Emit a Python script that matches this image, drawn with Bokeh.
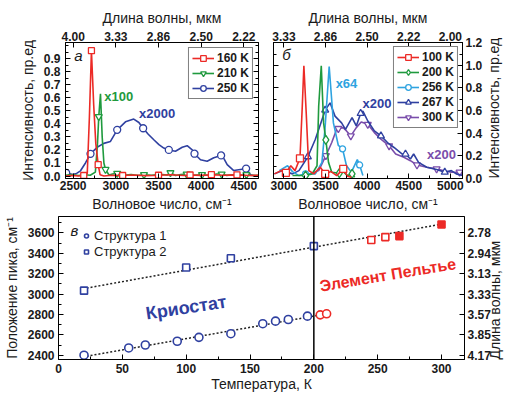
import math
from bokeh.plotting import figure
from bokeh.models import (Range1d, LinearAxis, FixedTicker, SingleIntervalTicker,
                          Legend, LegendItem, PrintfTickFormatter, Span, Label)
from bokeh.layouts import column, row
from bokeh.embed import file_html
from bokeh.resources import INLINE

FONT = "Liberation Sans"
TXT = "#1a1a1a"

# ---------------- panel a data ----------------
a_wn_ticks = [2500, 3000, 3500, 4000, 4500]
a_wl_labels = ["4.00", "3.33", "2.86", "2.50", "2.22"]
a_int_ticks = [0.0, 0.1, 0.2, 0.3, 0.4, 0.5, 0.6, 0.7, 0.8, 0.9]

a160_x = [2410, 2500, 2560, 2624, 2665, 2690, 2714, 2740, 2765, 2793, 2815, 2860, 2950,
          3080, 3200, 3350, 3500, 3650, 3800, 3870, 4000, 4120, 4250, 4420, 4550, 4672]
a160_y = [0.0, 0.005, 0.0, 0.004, 0.02, 0.45, 0.96, 0.55, 0.25, 0.087, 0.01, 0.0, 0.006,
          0.004, 0.008, 0.003, 0.006, 0.01, 0.004, 0.008, 0.005, 0.01, 0.006, 0.009, 0.004, 0.005]
a160_mx = [2624, 2714, 2793, 3080, 3500, 3870, 4120, 4420]
a160_my = [0.004, 0.96, 0.087, 0.004, 0.006, 0.008, 0.01, 0.009]

a210_x = [2410, 2480, 2560, 2640, 2700, 2760, 2785, 2800, 2820, 2840, 2860, 2879, 2920,
          2960, 3016, 3080, 3180, 3260, 3330, 3420, 3520, 3600, 3640, 3700, 3760, 3830,
          3900, 4010, 4100, 4180, 4240, 4300, 4400, 4460, 4530, 4600, 4672]
a210_y = [0.005, 0.012, 0.004, 0.01, 0.006, 0.03, 0.25, 0.455, 0.63, 0.3, 0.1, 0.05, 0.008,
          0.015, 0.02, 0.006, 0.012, 0.004, 0.01, 0.006, 0.014, 0.008, 0.025, 0.004, 0.012,
          0.015, 0.006, 0.01, 0.004, 0.016, 0.015, 0.005, 0.012, 0.006, 0.01, 0.004, 0.006]
a210_mx = [2800, 2879, 3016, 3330, 3640, 3830, 4010, 4240, 4530]
a210_my = [0.455, 0.05, 0.02, 0.01, 0.025, 0.015, 0.01, 0.015, 0.01]

a250_x = [2418, 2450, 2488, 2540, 2586, 2644, 2703, 2781, 2859, 2937, 3016, 3113, 3210,
          3270, 3320, 3380, 3445, 3505, 3562, 3621, 3699, 3778, 3836, 3895, 3922, 3992,
          4070, 4148, 4234, 4270, 4305, 4382, 4460, 4527, 4578, 4637, 4672]
a250_y = [0.024, 0.02, 0.012, 0.02, 0.04, 0.10, 0.17, 0.22, 0.25, 0.265, 0.354, 0.415, 0.436,
          0.41, 0.366, 0.32, 0.278, 0.24, 0.214, 0.20, 0.19, 0.22, 0.232, 0.20, 0.171, 0.125,
          0.113, 0.14, 0.158, 0.13, 0.088, 0.042, 0.05, 0.057, 0.01, 0.0, 0.0]
a250_mx = [2418, 2703, 3016, 3320, 3621, 3922, 4234, 4527]
a250_my = [0.024, 0.17, 0.354, 0.366, 0.20, 0.171, 0.158, 0.057]

# ---------------- panel b data ----------------
b_wn_ticks = [3000, 3500, 4000, 4500, 5000]
b_wl_labels = ["3.33", "2.86", "2.50", "2.22", "2.00"]
b_int_ticks = [0.0, 0.2, 0.4, 0.6, 0.8, 1.0, 1.2]

b100_x = [2886, 2965, 3024, 3083, 3134, 3193, 3221, 3240, 3268, 3300, 3359, 3437, 3496,
          3567, 3634, 3713, 3764, 3811]
b100_y = [0.038, 0.067, 0.047, 0.11, 0.067, 0.176, 0.64, 0.996, 0.58, 0.067, 0.038, 0.097,
          0.038, 0.058, 0.023, 0.082, 0.017, 0.009]
b100_mx = [3024, 3193, 3496, 3713]
b100_my = [0.047, 0.176, 0.038, 0.082]

b200_x = [3103, 3260, 3339, 3398, 3418, 3449, 3477, 3504, 3536, 3575, 3666, 3713, 3764, 3819, 3851]
b200_y = [0.023, 0.023, 0.038, 0.11, 0.64, 0.996, 0.49, 0.34, 0.14, 0.053, 0.044, 0.058,
          0.023, 0.038, 0.009]
b200_mx = [3260, 3504, 3666, 3819]
b200_my = [0.023, 0.34, 0.044, 0.038]

b256_x = [2945, 3044, 3103, 3181, 3260, 3378, 3457, 3496, 3544, 3595, 3654, 3705, 3752,
          3811, 3882, 3910, 3949]
b256_y = [0.067, 0.11, 0.058, 0.023, 0.038, 0.038, 0.14, 0.46, 0.99, 0.49, 0.29, 0.26,
          0.11, 0.053, 0.164, 0.117, 0.023]
b256_mx = [3260, 3705, 3910]
b256_my = [0.038, 0.26, 0.117]

b267_x = [2886, 2985, 3103, 3181, 3288, 3378, 3496, 3555, 3614, 3693, 3740, 3819, 3870,
          3922, 3949, 4008, 4087, 4166, 4244, 4323, 4422, 4461, 4520, 4559, 4618, 4717,
          4835, 4933, 5012, 5071, 5146]
b267_y = [0.038, 0.067, 0.038, 0.067, 0.19, 0.345, 0.603, 0.668, 0.55, 0.49, 0.433, 0.536,
          0.463, 0.574, 0.595, 0.507, 0.419, 0.375, 0.316, 0.272, 0.214, 0.214, 0.17, 0.214,
          0.14, 0.097, 0.076, 0.053, 0.067, 0.038, 0.023]
b267_mx = [3288, 3496, 3922, 4166, 4461, 4933]
b267_my = [0.19, 0.603, 0.574, 0.375, 0.214, 0.053]

b300_x = [3260, 3418, 3504, 3575, 3634, 3654, 3713, 3752, 3804, 3870, 3929, 4008, 4087,
          4166, 4264, 4343, 4441, 4520, 4599, 4717, 4835, 4914, 5012, 5111, 5146]
b300_y = [0.023, 0.067, 0.199, 0.316, 0.433, 0.44, 0.448, 0.419, 0.375, 0.448, 0.498, 0.477,
          0.404, 0.346, 0.287, 0.214, 0.185, 0.155, 0.117, 0.097, 0.082, 0.067, 0.053, 0.053, 0.023]
b300_mx = [3504, 3654, 3804, 4008, 4264, 4599, 4835, 5111]
b300_my = [0.199, 0.44, 0.375, 0.477, 0.287, 0.117, 0.082, 0.053]

# ---------------- panel c data ----------------
c_wn_ticks = [2400, 2600, 2800, 3000, 3200, 3400, 3600]
c_wl_labels = ["4.17", "3.85", "3.57", "3.33", "3.13", "2.94", "2.78"]

s1_cryo_T = [20, 55, 68, 93, 110, 135, 160, 170, 180, 195]
s1_cryo_y = [2400, 2471, 2500, 2537, 2575, 2611, 2709, 2734, 2750, 2783]
s1_pelt_T = [205, 210]
s1_pelt_y = [2796, 2806]
s2_cryo_T = [20, 100, 135, 200]
s2_cryo_y = [3033, 3260, 3351, 3470]
s2_pelt_open_T = [245, 256]
s2_pelt_open_y = [3529, 3558]
s2_pelt_fill_T = [267, 300]
s2_pelt_fill_y = [3568, 3682]
fit1_T = [22, 206]
fit1_y = [2390, 2797]
fit2_T = [22, 300]
fit2_y = [3058, 3685]
boundary_T = 200

RED = "#ec2a26"
GREEN = "#1f9a3e"
LBLUE = "#2ea3e0"
DBLUE = "#2f40a0"
PURPLE = "#7a4dab"


def style_axis(ax):
    ax.major_tick_in = 5
    ax.major_tick_out = 0
    ax.minor_tick_in = 3
    ax.minor_tick_out = 0
    ax.axis_line_color = "black"
    ax.major_tick_line_color = "black"
    ax.minor_tick_line_color = "black"
    ax.major_label_text_font = FONT
    ax.major_label_text_font_style = "bold"
    ax.major_label_text_font_size = "12px"
    ax.major_label_text_color = TXT
    ax.axis_label_text_font = FONT
    ax.axis_label_text_font_style = "normal"
    ax.axis_label_text_font_size = "14px"
    ax.axis_label_text_color = TXT


def upward_label(ax, text, standoff):
    # right-hand axis title that reads from bottom to top
    ax.axis_label = text
    ax.axis_label_standoff = standoff
    try:
        ax.axis_label_orientation = math.pi / 2
    except Exception:
        pass
    try:
        ax.axis_label_align = "start"
    except Exception:
        pass


def ticks_only_axis(ticks, minor):
    ax = LinearAxis(ticker=FixedTicker(ticks=ticks, minor_ticks=minor),
                    major_label_overrides={t: "" for t in ticks})
    style_axis(ax)
    ax.major_label_standoff = 0
    return ax


def base_fig(w, h, xr, yr, bl, br, bt, bb, yloc="left"):
    p = figure(width=w, height=h, x_range=Range1d(*xr), y_range=Range1d(*yr),
               output_backend="svg", toolbar_location=None, y_axis_location=yloc,
               min_border_left=bl, min_border_right=br, min_border_top=bt, min_border_bottom=bb)
    p.xgrid.visible = False
    p.ygrid.visible = False
    p.outline_line_color = "black"
    p.outline_line_width = 1
    p.background_fill_color = "white"
    p.border_fill_color = "white"
    return p


def series(p, x, y, mx, my, color, marker, size=7):
    ln = p.line(x, y, line_color=color, line_width=1.6)
    sc = p.scatter(mx, my, marker=marker, size=size, line_color=color, fill_color="white",
                   line_width=1.3)
    return [ln, sc]


def make_legend(items, loc, font_style="bold", size="12px", border=True):
    lg = Legend(items=items, location=loc)
    lg.margin = 5
    lg.padding = 3
    lg.spacing = 1
    lg.glyph_width = 22
    lg.glyph_height = 14
    lg.label_height = 14
    lg.label_standoff = 3
    lg.label_text_font = FONT
    lg.label_text_font_style = font_style
    lg.label_text_font_size = size
    lg.label_text_color = TXT
    if border:
        lg.border_line_color = "black"
        lg.border_line_width = 1
        lg.background_fill_color = "white"
        lg.background_fill_alpha = 1
    else:
        lg.border_line_color = None
        lg.background_fill_alpha = 0
    return lg


def txt(p, x, y, t, color, size="13px", style="bold", angle=0):
    p.add_layout(Label(x=x, y=y, text=t, text_color=color, text_font=FONT,
                       text_font_size=size, text_font_style=style, text_align="center",
                       text_baseline="middle", angle=angle, angle_units="deg"))


WN_LABEL = "Волновое число, см\u207b\u00b9"
INT_LABEL = "Интенсивность, пр.ед"
WL_LABEL = "Длина волны, мкм"

# ---------------- panel a ----------------
pa = base_fig(265, 214, (2410, 4672), (-0.019, 1.023), 65, 7, 42, 35)
a_minor = [round(0.05 * i, 2) for i in range(-1, 21)]
pa.xaxis.ticker = SingleIntervalTicker(interval=500, num_minor_ticks=2)
pa.yaxis.ticker = FixedTicker(ticks=a_int_ticks, minor_ticks=a_minor)
pa.yaxis.formatter = PrintfTickFormatter(format="%.1f")
pa.xaxis.axis_label = WN_LABEL
pa.yaxis.axis_label = INT_LABEL
style_axis(pa.xaxis[0])
style_axis(pa.yaxis[0])
pa.xaxis.major_label_standoff = 2
pa.xaxis.axis_label_standoff = 3
pa.yaxis.major_label_standoff = 5
pa.yaxis.axis_label_standoff = 5

top_a = LinearAxis(ticker=FixedTicker(ticks=a_wn_ticks),
                   major_label_overrides={t: l for t, l in zip(a_wn_ticks, a_wl_labels)},
                   axis_label=WL_LABEL)
style_axis(top_a)
top_a.major_label_standoff = 2
top_a.axis_label_standoff = 3
pa.add_layout(top_a, "above")
pa.add_layout(ticks_only_axis(a_int_ticks, a_minor), "right")

r250 = series(pa, a250_x, a250_y, a250_mx, a250_my, DBLUE, "circle", 7)
r210 = series(pa, a210_x, a210_y, a210_mx, a210_my, GREEN, "inverted_triangle", 7)
r160 = series(pa, a160_x, a160_y, a160_mx, a160_my, RED, "square", 6)
pa.add_layout(make_legend([LegendItem(label="160 K", renderers=r160),
                           LegendItem(label="210 K", renderers=r210),
                           LegendItem(label="250 K", renderers=r250)], "top_right"))
txt(pa, 2562, 0.924, "а", TXT, "15px", "italic")
txt(pa, 3034, 0.607, "x100", GREEN)
txt(pa, 3484, 0.48, "x2000", DBLUE)

# ---------------- panel b ----------------
pb = base_fig(248, 214, (2875, 5146), (-0.003, 1.203), 8, 48, 42, 35, yloc="right")
b_minor = [round(0.1 * i, 1) for i in range(0, 13)]
pb.xaxis.ticker = SingleIntervalTicker(interval=500, num_minor_ticks=2)
pb.yaxis.ticker = FixedTicker(ticks=b_int_ticks, minor_ticks=b_minor)
pb.yaxis.formatter = PrintfTickFormatter(format="%.1f")
pb.xaxis.axis_label = WN_LABEL
style_axis(pb.xaxis[0])
style_axis(pb.yaxis[0])
pb.xaxis.major_label_standoff = 2
pb.xaxis.axis_label_standoff = 3
pb.yaxis.major_label_standoff = 3
upward_label(pb.yaxis[0], INT_LABEL, 9)

top_b = LinearAxis(ticker=FixedTicker(ticks=b_wn_ticks),
                   major_label_overrides={t: l for t, l in zip(b_wn_ticks, b_wl_labels)},
                   axis_label=WL_LABEL)
style_axis(top_b)
top_b.major_label_standoff = 2
top_b.axis_label_standoff = 3
pb.add_layout(top_b, "above")
pb.add_layout(ticks_only_axis(b_int_ticks, b_minor), "left")

q300 = series(pb, b300_x, b300_y, b300_mx, b300_my, PURPLE, "inverted_triangle", 7)
q267 = series(pb, b267_x, b267_y, b267_mx, b267_my, DBLUE, "triangle", 7)
q256 = series(pb, b256_x, b256_y, b256_mx, b256_my, LBLUE, "circle", 6)
q200 = series(pb, b200_x, b200_y, b200_mx, b200_my, GREEN, "diamond", 9)
q100 = series(pb, b100_x, b100_y, b100_mx, b100_my, RED, "square", 7)
lb = make_legend([LegendItem(label="100 K", renderers=q100),
                  LegendItem(label="200 K", renderers=q200),
                  LegendItem(label="256 K", renderers=q256),
                  LegendItem(label="267 K", renderers=q267),
                  LegendItem(label="300 K", renderers=q300)], "top_right")
lb.margin = 4
pb.add_layout(lb)
txt(pb, 3032, 1.093, "б", TXT, "15px", "italic")
txt(pb, 3752, 0.84, "x64", LBLUE)
txt(pb, 4118, 0.66, "x200", DBLUE)
txt(pb, 4894, 0.214, "x200", PURPLE)

# ---------------- panel c ----------------
pc = base_fig(513, 180, (0, 318), (2358, 3760), 57, 48, 2, 35)
pc.xaxis.ticker = SingleIntervalTicker(interval=50, num_minor_ticks=2)
pc.yaxis.ticker = SingleIntervalTicker(interval=200, num_minor_ticks=2)
pc.xaxis.axis_label = "Температура, К"
pc.yaxis.axis_label = "Положение пика, см\u207b\u00b9"
style_axis(pc.xaxis[0])
style_axis(pc.yaxis[0])
pc.xaxis.major_label_standoff = 4
pc.xaxis.axis_label_standoff = 0
pc.yaxis.major_label_standoff = 4
pc.yaxis.axis_label_standoff = 5

right_c = LinearAxis(ticker=FixedTicker(ticks=c_wn_ticks),
                     major_label_overrides={t: l for t, l in zip(c_wn_ticks, c_wl_labels)})
style_axis(right_c)
right_c.major_label_standoff = 3
upward_label(right_c, WL_LABEL, 1)
pc.add_layout(right_c, "right")

pc.add_layout(Span(location=boundary_T, dimension="height", line_color="black", line_width=1.5))
pc.line(fit1_T, fit1_y, line_color="#222222", line_width=1.5, line_dash="2 2")
pc.line(fit2_T, fit2_y, line_color="#222222", line_width=1.5, line_dash="2 2")
c1 = pc.scatter(s1_cryo_T, s1_cryo_y, marker="circle", size=8, line_color=DBLUE,
                fill_color="white", line_width=1.6)
pc.scatter(s1_pelt_T, s1_pelt_y, marker="circle", size=8, line_color=RED,
           fill_color="white", line_width=1.6)
c2 = pc.scatter(s2_cryo_T, s2_cryo_y, marker="square", size=7, line_color=DBLUE,
                fill_color="white", line_width=1.6)
pc.scatter(s2_pelt_open_T, s2_pelt_open_y, marker="square", size=7, line_color=RED,
           fill_color="white", line_width=1.6)
pc.scatter(s2_pelt_fill_T, s2_pelt_fill_y, marker="square", size=7, line_color=RED,
           fill_color=RED, line_width=1.6)

lc = make_legend([LegendItem(label="Структура 1", renderers=[c1]),
                  LegendItem(label="Структура 2", renderers=[c2])], (23, 100),
                 font_style="normal", size="13px", border=False)
lc.margin = 0
lc.padding = 0
lc.glyph_width = 10
lc.glyph_height = 15
lc.label_height = 15
lc.spacing = 1
pc.add_layout(lc)

txt(pc, 12.5, 3625, "в", TXT, "15px", "italic")
txt(pc, 100, 2867, "Криостат", DBLUE, "18px", "bold", 8.5)
txt(pc, 258, 3188, "Элемент Пельтье", RED, "16px", "bold", 9.5)

layout = column(row(pa, pb), pc)
open("out.html", "w").write(file_html(layout, INLINE))
